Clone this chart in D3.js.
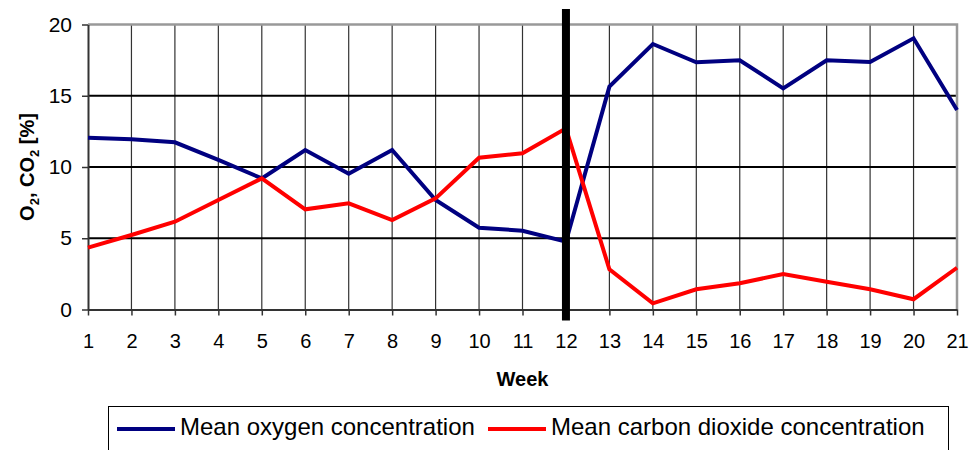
<!DOCTYPE html>
<html>
<head>
<meta charset="utf-8">
<script src="https://cdn.jsdelivr.net/npm/d3@7"></script>
<style>
  body { margin: 0; background: #fff; }
  svg { font-family: "Liberation Sans", Arial, sans-serif; }
</style>
</head>
<body>
<div id="vis"></div>
<script>
// chart size and margins
const FRAME_WIDTH = 971;
const FRAME_HEIGHT = 450;
const MARGINS = {left: 88, right: 14, top: 24.5, bottom: 140.5};

// data
const weeks = d3.range(1, 22);
const oxygen = [12.06, 11.94, 11.73, 10.5, 9.2, 11.19, 9.53, 11.19, 7.68, 5.74, 5.53,
                4.76, 15.64, 18.63, 17.35, 17.49, 15.52, 17.49, 17.37, 19.03, 14.0];
const carbonDioxide = [4.34, 5.23, 6.16, 7.68, 9.2, 7.03, 7.45, 6.28, 7.8, 10.65, 10.96,
                       12.71, 2.82, 0.43, 1.42, 1.84, 2.49, 1.95, 1.42, 0.72, 2.93];
const yTicks = [0, 5, 10, 15, 20];
const markerWeek = 12;
const seriesNames = ["Mean oxygen concentration", "Mean carbon dioxide concentration"];
const seriesColors = ["#000080", "#ff0000"];

const VIS_WIDTH = FRAME_WIDTH - MARGINS.left - MARGINS.right;
const VIS_HEIGHT = FRAME_HEIGHT - MARGINS.top - MARGINS.bottom;

const FRAME = d3.select("#vis")
                .append("svg")
                  .attr("width", FRAME_WIDTH)
                  .attr("height", FRAME_HEIGHT);

const X_SCALE = d3.scaleLinear().domain([1, 21]).range([0, VIS_WIDTH]);
const Y_SCALE = d3.scaleLinear().domain([0, 20]).range([VIS_HEIGHT, 0]);

const G = FRAME.append("g")
               .attr("transform", "translate(" + MARGINS.left + "," + MARGINS.top + ")");

// vertical grid lines (thin)
G.selectAll(".vgrid")
  .data(weeks.slice(1, -1))
  .enter()
  .append("line")
    .attr("x1", (d) => X_SCALE(d)).attr("x2", (d) => X_SCALE(d))
    .attr("y1", 0).attr("y2", VIS_HEIGHT)
    .attr("stroke", "#333").attr("stroke-width", 1.2);

// horizontal grid lines (black)
G.selectAll(".hgrid")
  .data([5, 10, 15])
  .enter()
  .append("line")
    .attr("x1", 0).attr("x2", VIS_WIDTH)
    .attr("y1", (d) => Y_SCALE(d)).attr("y2", (d) => Y_SCALE(d))
    .attr("stroke", "#000").attr("stroke-width", 2);

// plot border top and right (gray)
G.append("path")
  .attr("d", "M0," + Y_SCALE(20) + "H" + VIS_WIDTH + "V" + VIS_HEIGHT)
  .attr("fill", "none").attr("stroke", "#999").attr("stroke-width", 2.5);

// x axis
const xAxis = G.append("g")
  .attr("transform", "translate(0," + VIS_HEIGHT + ")")
  .call(d3.axisBottom(X_SCALE).tickValues(weeks).tickFormat(d3.format("d"))
          .tickSizeInner(6).tickSizeOuter(0).tickPadding(18));
xAxis.select(".domain").attr("stroke", "#333").attr("stroke-width", 2);
xAxis.selectAll(".tick line").attr("stroke", "#333").attr("stroke-width", 1.5);
xAxis.selectAll("text").attr("font-size", "20px").attr("fill", "#000")
     .attr("font-family", "Liberation Sans, Arial, sans-serif");

// y axis
const yAxis = G.append("g")
  .call(d3.axisLeft(Y_SCALE).tickValues(yTicks)
          .tickSizeInner(6).tickSizeOuter(0).tickPadding(10));
yAxis.select(".domain").attr("stroke", "#333").attr("stroke-width", 2);
yAxis.selectAll(".tick line").attr("stroke", "#333").attr("stroke-width", 1.5);
yAxis.selectAll("text").attr("font-size", "21px").attr("fill", "#000")
     .attr("font-family", "Liberation Sans, Arial, sans-serif");

// data lines
const lineGen = d3.line()
  .x((d, i) => X_SCALE(weeks[i]))
  .y((d) => Y_SCALE(d));

[oxygen, carbonDioxide].forEach((series, i) => {
  G.append("path")
    .datum(series)
    .attr("d", lineGen)
    .attr("fill", "none")
    .attr("stroke", seriesColors[i])
    .attr("stroke-width", 4)
    .attr("stroke-linejoin", "miter");
});

// thick marker line at week 12
G.append("line")
  .attr("x1", X_SCALE(markerWeek)).attr("x2", X_SCALE(markerWeek))
  .attr("y1", -15.5).attr("y2", VIS_HEIGHT + 11)
  .attr("stroke", "#000").attr("stroke-width", 8);

// axis titles
FRAME.append("text")
  .attr("x", MARGINS.left + VIS_WIDTH / 2)
  .attr("y", 386)
  .attr("text-anchor", "middle")
  .attr("font-size", "20px")
  .attr("font-weight", "bold")
  .text("Week");

const yTitle = FRAME.append("text")
  .attr("transform", "translate(34,167) rotate(-90)")
  .attr("text-anchor", "middle")
  .attr("font-size", "20px")
  .attr("font-weight", "bold");
yTitle.append("tspan").text("O");
yTitle.append("tspan").attr("font-size", "13px").attr("dy", 5).text("2");
yTitle.append("tspan").attr("dy", -5).text(", CO");
yTitle.append("tspan").attr("font-size", "13px").attr("dy", 5).text("2");
yTitle.append("tspan").attr("dy", -5).text(" [%]");

// legend
const LEGEND = FRAME.append("g");
LEGEND.append("rect")
  .attr("x", 108.5).attr("y", 406.5)
  .attr("width", 840).attr("height", 60)
  .attr("fill", "#fff").attr("stroke", "#000").attr("stroke-width", 1);

const legendX = [117, 488];
seriesNames.forEach((name, i) => {
  LEGEND.append("line")
    .attr("x1", legendX[i]).attr("x2", legendX[i] + 58)
    .attr("y1", 429).attr("y2", 429)
    .attr("stroke", seriesColors[i]).attr("stroke-width", 4);
  LEGEND.append("text")
    .attr("x", legendX[i] + 63)
    .attr("y", 435)
    .attr("font-size", "24px")
    .text(name);
});
</script>
</body>
</html>
